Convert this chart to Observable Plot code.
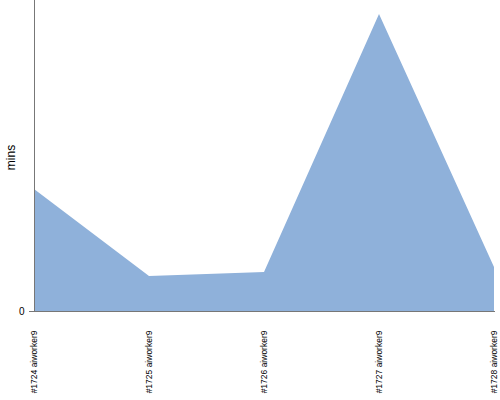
<!DOCTYPE html>
<html><head><meta charset="utf-8">
<script src="https://cdn.jsdelivr.net/npm/d3@7"></script>
<script src="https://cdn.jsdelivr.net/npm/@observablehq/plot@0.6"></script>
<style>body{margin:0;background:#fff;} svg{display:block;}</style>
</head><body><div id="chart"></div>
<script>
const builds = ["#1724 aiworker9", "#1725 aiworker9", "#1726 aiworker9", "#1727 aiworker9", "#1728 aiworker9"];
const mins = [12.2, 3.5, 3.9, 29.7, 4.4];
const yMax = 31.1;
const yTicks = [0];

const data = builds.map((b, i) => ({build: b, mins: mins[i]}));

const chart = Plot.plot({
  width: 500,
  height: 400,
  marginLeft: 33,
  marginRight: 5,
  marginTop: 0,
  marginBottom: 89,
  style: {fontFamily: "'Liberation Sans', Arial, sans-serif", background: "#fff"},
  x: {type: "point", domain: builds, padding: 0},
  y: {domain: [0, yMax]},
  marks: [
    Plot.areaY(data, {x: "build", y: "mins", fill: "#8fb1da", curve: "linear"}),
    Plot.ruleY([0], {stroke: "#777", strokeWidth: 1}),
    Plot.ruleX([builds[0]], {y1: 0, y2: yMax, stroke: "#777", strokeWidth: 1}),
    Plot.axisX({tickSize: 0, tickRotate: -90, tickPadding: 19, fontSize: 8.5, textAnchor: "end", label: null, fill: "#000"}),
    Plot.axisY({ticks: yTicks, tickSize: 4, tickFormat: d => String(d), fontSize: 10, label: null, stroke: "#777"}),
    Plot.text(["mins"], {x: () => builds[0], y: () => 15.4, dx: -23, rotate: -90, fontSize: 12, fill: "#000"})
  ]
});
document.getElementById("chart").appendChild(chart);
</script>
</body></html>
